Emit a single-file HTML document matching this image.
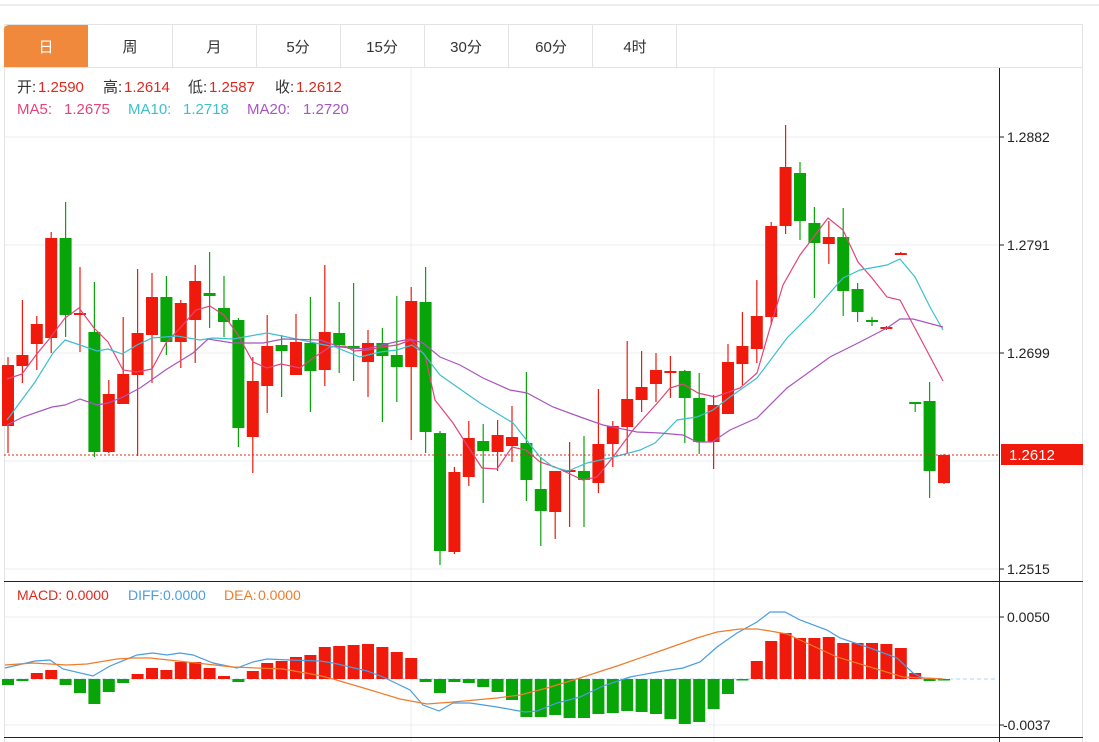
<!DOCTYPE html>
<html><head><meta charset="utf-8"><style>
html,body{margin:0;padding:0;background:#fff;}
svg{display:block;font-family:"Liberation Sans","Noto Sans CJK SC",sans-serif;}
</style></head><body>
<svg width="1099" height="742" viewBox="0 0 1099 742" xmlns="http://www.w3.org/2000/svg">
<line x1="0" y1="5" x2="1099" y2="5" stroke="#d8d8d8"/>
<rect x="4.5" y="24.5" width="1078" height="730" fill="none" stroke="#e3e3e3"/>
<line x1="4" y1="67.5" x2="1083" y2="67.5" stroke="#e3e3e3"/>
<path d="M4 67 V30 Q4 25 9 25 H88 V67 Z" fill="#f0893c"/>
<g stroke="#e3e3e3"><line x1="172.5" y1="25" x2="172.5" y2="67"/><line x1="256.5" y1="25" x2="256.5" y2="67"/><line x1="340.5" y1="25" x2="340.5" y2="67"/><line x1="424.5" y1="25" x2="424.5" y2="67"/><line x1="508.5" y1="25" x2="508.5" y2="67"/><line x1="592.5" y1="25" x2="592.5" y2="67"/><line x1="676.5" y1="25" x2="676.5" y2="67"/></g>
<g font-size="15" text-anchor="middle" fill="#333"><text x="46" y="52" fill="#fff">日</text><text x="130" y="52">周</text><text x="214" y="52">月</text><text x="298" y="52">5分</text><text x="382" y="52">15分</text><text x="466" y="52">30分</text><text x="551" y="52">60分</text><text x="635" y="52">4时</text></g>
<g stroke="#e8eef2"><line x1="5" y1="137" x2="999" y2="137"/><line x1="5" y1="245" x2="999" y2="245"/><line x1="5" y1="353" x2="999" y2="353"/><line x1="5" y1="461" x2="999" y2="461"/><line x1="5" y1="569" x2="999" y2="569"/><line x1="5" y1="617" x2="999" y2="617"/><line x1="5" y1="725" x2="999" y2="725"/><line x1="411" y1="68" x2="411" y2="742"/><line x1="714" y1="68" x2="714" y2="742"/></g>
<g font-size="15">
<text x="17" y="92" fill="#333">开:</text><text x="38" y="92" fill="#e0281e">1.2590</text>
<text x="103" y="92" fill="#333">高:</text><text x="124" y="92" fill="#e0281e">1.2614</text>
<text x="188" y="92" fill="#333">低:</text><text x="209" y="92" fill="#e0281e">1.2587</text>
<text x="275" y="92" fill="#333">收:</text><text x="296" y="92" fill="#e0281e">1.2612</text>
<text x="17" y="114" fill="#e0457b">MA5:</text><text x="64" y="114" fill="#e0457b">1.2675</text>
<text x="128" y="114" fill="#3cbfd0">MA10:</text><text x="183" y="114" fill="#3cbfd0">1.2718</text>
<text x="247" y="114" fill="#a855c0">MA20:</text><text x="303" y="114" fill="#a855c0">1.2720</text>
</g>
<g font-size="14"><text x="17" y="600" fill="#e0281e">MACD:</text><text x="66" y="600" fill="#e0281e">0.0000</text><text x="128" y="600" fill="#4a9de0">DIFF:</text><text x="163" y="600" fill="#4a9de0">0.0000</text><text x="224" y="600" fill="#f07c2a">DEA:</text><text x="258" y="600" fill="#f07c2a">0.0000</text></g>
<line x1="4" y1="679" x2="995" y2="679" stroke="#a8d4ee" stroke-dasharray="4,3"/>
<g id="c"></g>
<g id="m"></g>
<line x1="4" y1="455" x2="999" y2="455" stroke="#e0281e" stroke-dasharray="2,2"/>
<line x1="999.5" y1="68" x2="999.5" y2="742" stroke="#222"/>
<line x1="4" y1="581.5" x2="1083" y2="581.5" stroke="#222"/>
<line x1="4" y1="737.5" x2="1083" y2="737.5" stroke="#222"/>
<g stroke="#222"><line x1="999" y1="137" x2="1004" y2="137"/><line x1="999" y1="245" x2="1004" y2="245"/><line x1="999" y1="353" x2="1004" y2="353"/><line x1="999" y1="569" x2="1004" y2="569"/><line x1="999" y1="617" x2="1004" y2="617"/><line x1="999" y1="725" x2="1004" y2="725"/></g>
<g font-size="14" fill="#222"><text x="1007" y="142">1.2882</text><text x="1007" y="250">1.2791</text><text x="1007" y="358">1.2699</text><text x="1007" y="574">1.2515</text><text x="1007" y="622">0.0050</text><text x="1003" y="730">-0.0037</text></g>
<rect x="1001" y="444" width="82" height="21" fill="#ef1a0c"/>
<text x="1009" y="460" font-size="15" fill="#fff">1.2612</text>
</svg>
<script>
var C=[[365,426,357,453,1],[355,366,300,383,1],[324,344,316,370,1],[238,338,232,353,1],[238,315,202,337,0],[313,315,267,352,1],[332,452,282,457,0],[394,452,380,453,1],[374,404,317,404,1],[333,375,269,456,1],[297,335,273,383,1],[297,342,276,355,0],[303,342,300,368,1],[281,320,265,363,1],[293,296,252,328,0],[308,322,276,337,0],[320,428,318,447,0],[381,437,357,473,1],[346,386,315,413,1],[345,351,335,397,0],[342,375,314,375,1],[343,371,297,412,0],[332,370,265,386,1],[333,345,302,373,0],[346,349,283,381,0],[343,362,330,397,1],[343,356,328,422,0],[355,367,296,402,0],[301,367,287,440,1],[302,432,267,453,0],[433,551,431,565,0],[472,552,467,554,1],[438,477,421,486,1],[441,451,424,503,0],[435,452,420,471,1],[437,446,406,462,1],[443,480,372,501,0],[489,511,457,546,0],[471,512,471,539,1],[470,472,442,527,1],[471,480,436,527,0],[444,483,389,493,1],[426,444,421,467,1],[399,427,341,453,1],[387,400,351,412,1],[370,384,353,402,1],[371,372,356,398,1],[371,398,370,443,0],[398,442,373,454,0],[405,442,395,469,1],[362,414,344,414,1],[346,364,312,385,1],[316,349,280,363,1],[226,317,222,325,1],[167,226,125,234,1],[173,221,162,240,0],[223,243,207,298,0],[237,244,221,264,1],[237,291,208,316,0],[289,312,283,322,0],[320,321,317,326,0],[327,328,326,330,1],[253,254,252,254,1],[402,403,402,412,0],[401,471,382,498,0],[455,483,454,484,1]];
var M=[685,681,673,670,685,693,704,692,683,674,668,670,662,662,668,676,682,671,663,661,657,655,647,646,645,644,647,652,658,682,693,682,683,687,692,700,717,717,715,718,718,714,713,711,712,714,719,724,722,709,694,680,661,641,633,638,638,637,643,643,643,644,648,673,681,679];
var s='',m='';
function X(i){return 8+14.4*i;}
for(var i=0;i<C.length;i++){var c=C[i],x=X(i),col=c[4]?'#ef1a0c':'#08a508';
s+='<line x1="'+x+'" y1="'+c[2]+'" x2="'+x+'" y2="'+c[3]+'" stroke="'+col+'" stroke-width="1.2"/>';
var h=Math.max(2,c[1]-c[0]);s+='<rect x="'+(x-6)+'" y="'+c[0]+'" width="12" height="'+h+'" fill="'+col+'"/>';
var v=M[i],t=Math.min(v,679),hh=Math.max(1.5,Math.abs(v-679));m+='<rect x="'+(x-6)+'" y="'+t+'" width="12" height="'+hh+'" fill="'+(v<679?'#ef1a0c':'#08a508')+'"/>';}
function P(pts,col){return '<polyline fill="none" stroke="'+col+'" stroke-width="1.2" points="'+pts+'"/>';}
s+=P('7,379 22,374 36,355 50,338 65,318 79,308 94,328 108,342 123,370 137,372 152,369 166,343 181,327 196,310 210,306 224,315 238,335 253,362 267,368 281,364 300,368 313,358 330,347 345,346 354,351 368,350 382,347 397,345 411,340 425,355 435,400 453,423 467,445 482,468 497,469 512,447 526,450 540,462 555,467 583,480 597,477 613,457 633,430 660,400 670,388 683,384 698,393 715,397 740,388 757,373 770,328 783,285 800,255 828,218 843,230 858,262 872,278 887,297 900,300 943,381','#e0457b');
s+=P('7,420 35,382 53,353 65,340 80,345 97,351 108,349 122,354 137,345 152,338 177,336 200,340 213,338 233,339 267,333 287,337 320,344 335,347 360,357 380,352 397,350 412,345 423,353 440,375 480,403 513,423 540,457 553,467 568,471 587,463 610,458 640,450 655,443 677,420 697,417 713,410 730,397 757,378 787,338 813,312 843,278 860,270 887,265 900,259 915,277 930,307 943,330','#3cbfd0');
s+=P('7,425 23,417 52,407 65,405 80,399 97,405 108,403 123,397 140,388 167,369 193,353 208,339 233,343 263,343 283,339 320,340 340,347 365,349 395,342 410,339 423,343 440,357 460,365 483,378 510,390 527,393 553,407 583,418 603,425 637,432 660,433 683,435 697,442 712,442 730,430 757,418 787,388 830,357 860,342 887,328 900,319 913,319 943,327','#a855c0');
m+=P('5,668 35,661 50,660 63,669 93,676 110,666 137,655 153,653 167,655 180,653 193,655 213,663 237,668 253,662 267,659 290,660 320,661 333,663 367,671 383,677 410,690 423,705 439,711 453,703 470,703 497,707 525,712 537,711 557,703 580,697 603,686 630,677 657,672 683,668 700,662 717,647 737,633 757,622 770,612 785,612 800,620 827,630 840,638 870,648 897,658 913,673 923,678 943,679','#4a9de0');
m+=P('5,665 33,663 67,665 87,664 117,659 133,658 150,658 187,662 233,667 283,669 317,675 333,679 367,689 400,699 427,704 453,702 497,698 520,695 547,688 580,678 620,665 663,650 697,638 717,632 740,629 757,629 770,631 787,634 837,657 870,667 903,677 943,679','#f07c2a');
document.getElementById('c').innerHTML=s;document.getElementById('m').innerHTML=m;
</script>
</body></html>
